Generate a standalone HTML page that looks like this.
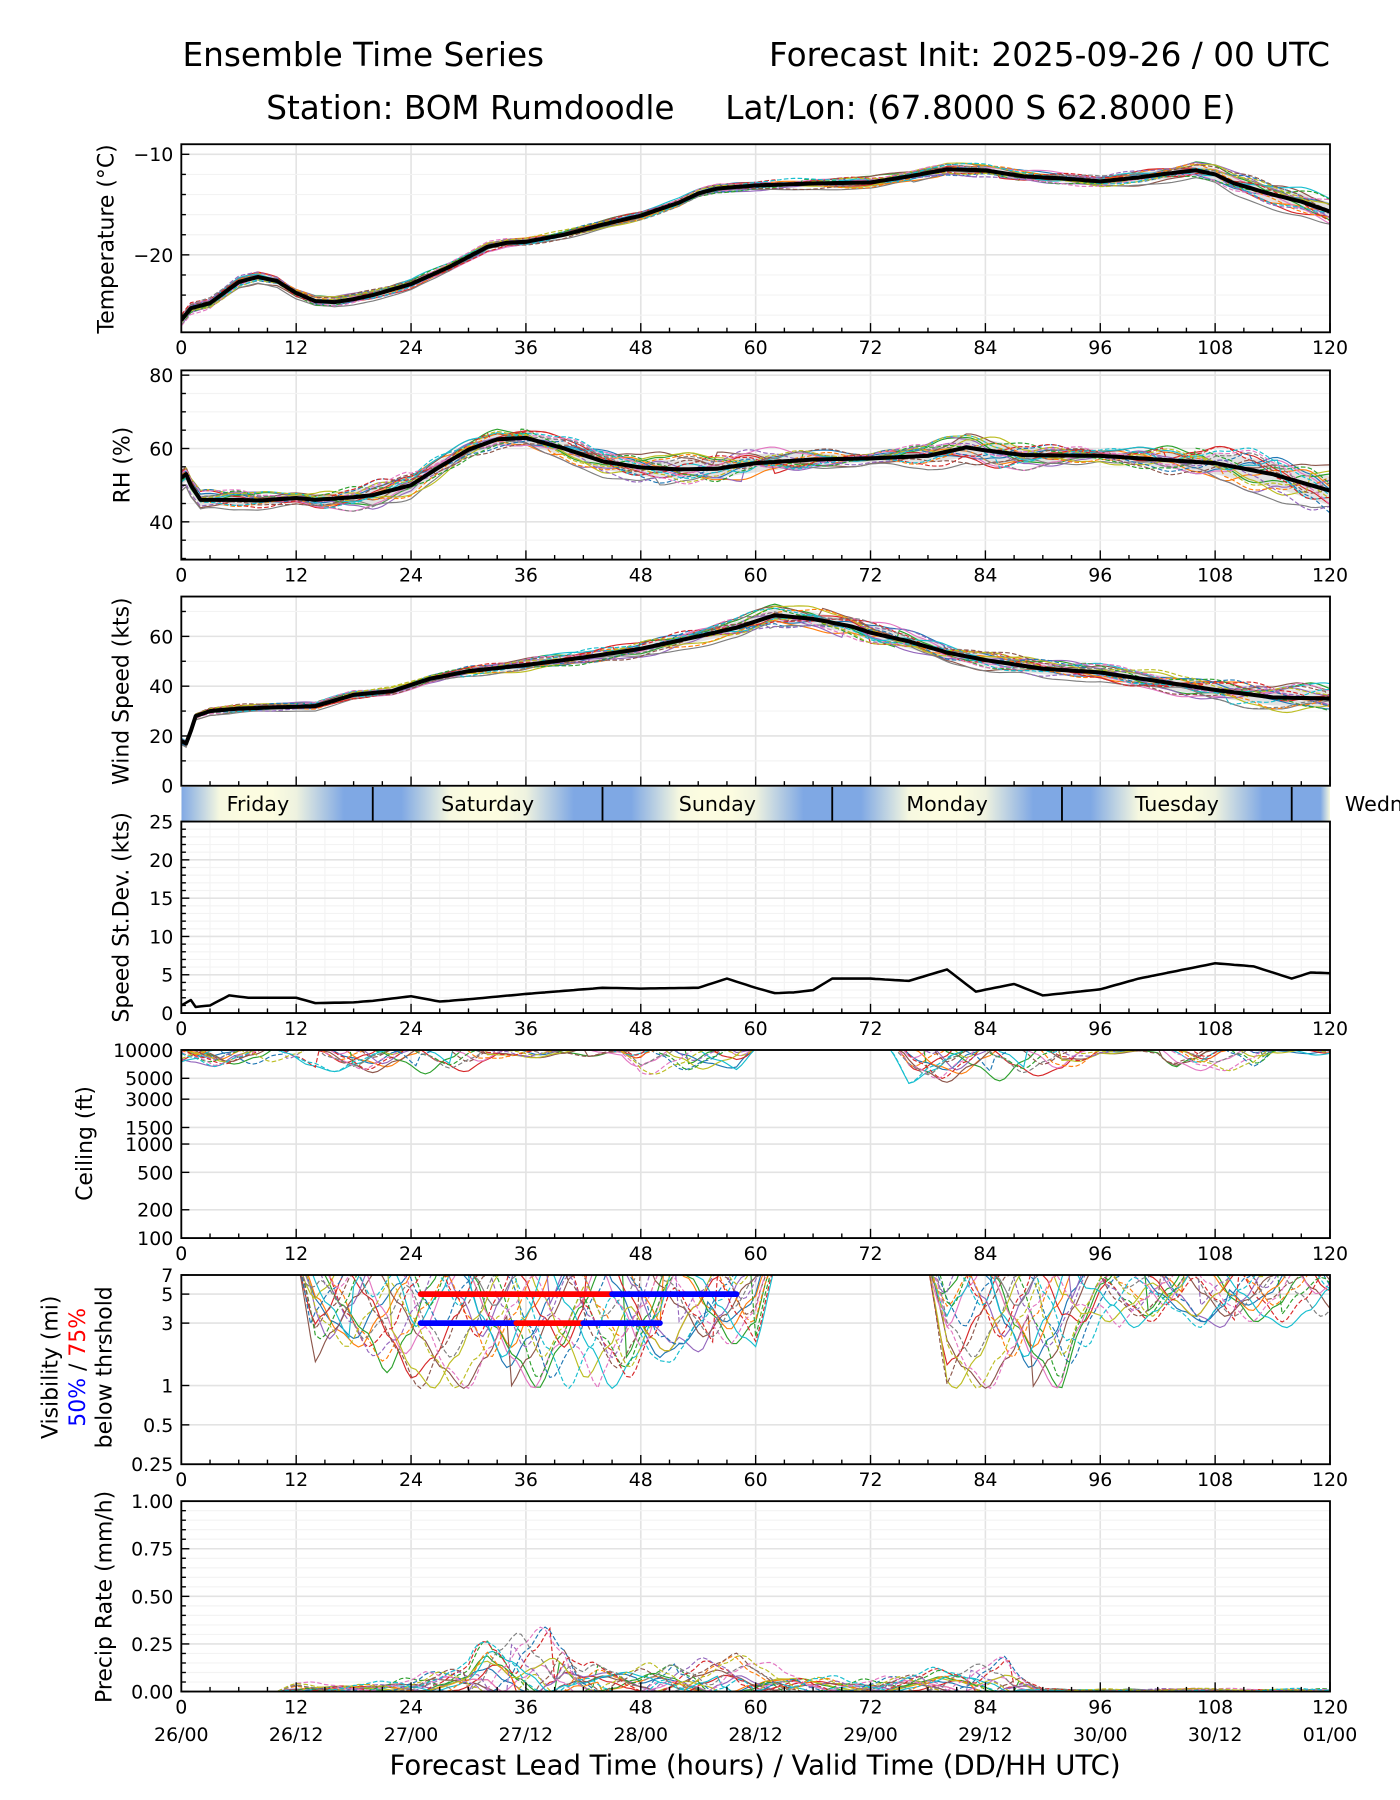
<!DOCTYPE html>
<html><head><meta charset="utf-8"><style>
html,body{margin:0;padding:0;background:#fff;}
svg{display:block;font-family:"DejaVu Sans","Liberation Sans",sans-serif;}
</style></head><body>
<svg id="chart" width="1400" height="1800" viewBox="0 0 1220 1560" preserveAspectRatio="none" xmlns="http://www.w3.org/2000/svg">
<rect x="0" y="0" width="1220" height="1560" fill="#fff"/>
<text x="159" y="57" font-size="28.5">Ensemble Time Series</text>
<text x="1159" y="57" font-size="28.5" text-anchor="end">Forecast Init: 2025-09-26 / 00 UTC</text>
<text x="232" y="103" font-size="28.5">Station: BOM Rumdoodle</text>
<text x="632" y="103" font-size="28.5">Lat/Lon: (67.8000 S 62.8000 E)</text>
<text x="658" y="1538" font-size="24" text-anchor="middle">Forecast Lead Time (hours) / Valid Time (DD/HH UTC)</text>
<g id="root"></g>
</svg>
<script>
// ---- data ----
const tempHours=[0,1,3,6,8,10,12,14,16,18,20,24,28,30,32,34,36,40,44,48,52,54,56,60,66,72,76,80,84,88,92,96,100,104,106,108,110,114,117,120];
const tempMean=[-26.5,-25.3,-24.8,-22.7,-22.2,-22.6,-23.8,-24.6,-24.7,-24.4,-24.0,-22.9,-21.2,-20.2,-19.2,-18.8,-18.7,-18.0,-17.0,-16.1,-14.8,-13.9,-13.4,-13.1,-12.9,-12.8,-12.2,-11.5,-11.6,-12.2,-12.4,-12.7,-12.3,-11.8,-11.6,-12.0,-12.9,-14.0,-14.7,-15.7];
const tempSpreadHours=[0,12,24,48,72,96,108,120];
const tempSpread=[0.8,0.7,0.6,0.5,0.7,0.8,1.2,1.8];

const rhHours=[0,0.5,1,2,6,8,12,14,18,20,24,27,30,33,36,40,44,48,52,56,60,66,72,78,82,84,88,96,102,108,114,120];
const rhMean=[52,53,50,46,46,45.8,46.5,46,46.7,47.3,50,55,59.7,62.5,62.9,60,56.5,54.8,54.3,54.5,56,57,57.3,58,60.3,59.5,58.2,58,57,56,53,48.5];
const rhSpreadHours=[0,12,20,30,40,50,60,72,84,96,108,120];
const rhSpread=[4,2,5,3,4,5,5,2,6,2,6,8];

const windHours=[0,0.5,1,1.5,3,6,10,14,18,22,26,30,36,42,48,54,58,62,66,70,72,76,80,84,90,96,102,108,114,120];
const windMean=[18,17,22,28,30,31,31.5,32,36.5,38,43,46,48.5,51.5,55,60,63.5,68.5,67,64,61.5,58,53.5,50.5,47,45.5,42,38.5,35.5,35];
const windSpreadHours=[0,24,48,60,72,84,96,108,120];
const windSpread=[2,2,4,5,6,5,4,6,7];

const sdHours=[0,1,1.5,3,5,7,12,14,18,20,24,27,30,36,44,48,54,57,60,62,64,66,68,72,76,80,83,87,90,93,96,100,104,108,112,116,118,120];
const sdVals=[1,1.7,0.8,1.0,2.3,2.0,2.0,1.3,1.4,1.6,2.2,1.5,1.8,2.5,3.3,3.2,3.3,4.5,3.3,2.6,2.7,3.0,4.5,4.5,4.2,5.7,2.8,3.8,2.3,2.7,3.1,4.5,5.5,6.5,6.1,4.5,5.3,5.2];

const ceilDepthHours=[0,10,12,30,34,36,46,48,58,60,74,76,92,96,102,104,112,114,120];
const ceilDepth=[0.25,0.25,0.3,0.35,0.15,0.15,0.12,0.35,0.3,0.05,0.05,0.45,0.4,0.1,0.1,0.3,0.3,0.1,0.12];

const visDepthHours=[0,12,14,20,24,50,52,60,62,78,80,92,96,120];
const visDepth=[0,0,0.9,0.9,1.1,1.1,0.8,0.8,0.1,0.1,1.1,1.1,0.6,0.6];

const precipAmpHours=[0,10,12,20,24,30,32,40,42,58,60,70,74,86,90,120];
const precipAmp=[0,0,0.03,0.03,0.05,0.1,0.22,0.22,0.1,0.12,0.1,0.04,0.05,0.12,0.01,0.01];

const vis50Segments=[[25,45,5,'red'],[45,58,5,'blue'],[25,35,3,'blue'],[35,42,3,'red'],[42,50,3,'blue']];

const memberPatterns=[
[0.2,0.5,0.3,-0.2,-0.5,-0.3,0.1,0.4,0.6,0.2,-0.1,-0.4,-0.6,-0.2,0.3,0.7,0.4,0.0,-0.3,-0.5,-0.1,0.3,0.6,0.8,0.5],
[-0.4,-0.1,0.3,0.6,0.2,-0.2,-0.6,-0.3,0.1,0.5,0.7,0.3,-0.1,-0.5,-0.7,-0.2,0.2,0.5,0.1,-0.3,-0.6,-0.8,-0.4,0.0,0.3],
[0.6,0.2,-0.3,-0.1,0.4,0.8,0.5,0.0,-0.4,-0.6,-0.2,0.2,0.5,0.9,0.4,-0.1,-0.5,-0.2,0.3,0.6,0.9,0.5,0.1,-0.3,-0.6],
[-0.7,-0.4,0.0,0.4,0.7,0.3,-0.1,-0.5,-0.8,-0.3,0.2,0.6,0.3,-0.2,0.1,0.5,0.8,0.6,0.2,-0.2,-0.5,-0.2,0.2,0.5,0.1],
[0.1,-0.3,-0.7,-0.5,-0.1,0.3,0.7,0.9,0.4,-0.1,-0.5,-0.8,-0.4,0.1,0.6,0.2,-0.3,-0.7,-0.9,-0.4,0.0,0.4,0.0,-0.5,-0.9],
[0.9,0.6,0.2,-0.2,-0.6,-0.9,-0.5,-0.1,0.3,0.7,0.4,0.0,-0.3,0.2,0.6,0.9,0.5,0.1,-0.2,0.1,0.4,0.7,0.9,0.6,0.2],
[-0.2,0.2,0.6,0.9,0.5,0.1,-0.3,0.1,0.5,0.0,-0.4,-0.7,-0.9,-0.5,-0.1,0.3,0.0,-0.4,-0.6,-0.3,0.2,0.6,0.3,-0.1,-0.4],
[-0.9,-0.6,-0.2,0.1,-0.2,-0.5,-0.8,-0.9,-0.6,-0.9,-1.0,-0.8,-0.5,-0.2,-0.6,-0.9,-0.7,-0.3,0.0,-0.3,-0.7,-0.9,-1.0,-0.8,-0.5],
[0.4,0.7,0.9,0.6,0.2,-0.2,-0.4,0.0,0.4,0.8,0.5,0.1,0.4,0.7,0.3,-0.2,-0.6,-0.9,-0.5,-0.1,0.3,0.0,-0.4,-0.7,-0.3],
[0.0,-0.5,-0.2,0.3,0.0,-0.4,0.2,0.6,0.2,-0.3,0.1,0.5,0.9,0.6,0.2,-0.3,-0.1,0.3,0.7,0.9,0.6,0.2,-0.2,0.2,0.6],
[0.3,0.0,-0.4,-0.8,-0.4,0.0,0.3,-0.1,-0.5,-0.2,0.3,0.8,0.5,0.0,-0.4,-0.1,0.4,0.8,0.4,0.0,-0.4,-0.7,-0.3,0.2,0.7],
[-0.5,-0.8,-0.5,0.0,0.5,0.8,0.4,0.1,-0.2,0.2,0.6,0.2,-0.2,-0.6,-0.3,0.1,0.4,0.1,-0.3,-0.7,-0.4,0.1,0.5,0.2,-0.2],
[0.7,0.3,0.0,0.3,0.6,0.2,-0.3,-0.7,-0.3,0.1,-0.3,-0.6,-0.2,0.3,0.8,0.4,0.0,0.4,0.7,0.3,-0.1,-0.5,-0.8,-0.5,-0.1],
[-0.1,0.4,0.8,0.4,-0.1,-0.5,-0.2,0.3,0.7,0.4,-0.1,-0.4,0.0,0.4,0.0,-0.5,-0.8,-0.4,0.1,0.5,0.8,0.4,0.0,0.4,0.8],
[0.5,0.1,-0.2,0.2,-0.2,-0.6,-0.9,-0.5,0.0,0.4,0.8,0.5,0.1,-0.3,-0.7,-0.4,0.1,0.5,0.2,-0.2,0.2,0.6,0.2,-0.3,-0.6],
[-0.3,-0.6,-0.9,-0.5,-0.1,0.4,0.1,-0.3,0.1,0.5,0.2,-0.2,0.3,0.6,0.9,0.5,0.1,-0.2,-0.5,-0.8,-0.5,-0.1,0.4,0.7,0.4],
[0.8,0.4,0.1,-0.3,0.1,0.5,0.8,0.4,-0.1,-0.5,-0.8,-0.4,0.0,-0.3,-0.6,-0.2,0.3,0.7,0.9,0.5,0.1,-0.2,0.2,0.5,0.9],
[-0.6,-0.2,0.2,0.0,-0.4,-0.1,0.4,0.7,0.3,-0.1,0.3,0.7,0.4,-0.1,0.2,0.6,0.3,-0.1,0.3,0.6,0.3,-0.2,-0.6,-0.9,-0.6],
[0.2,0.6,0.3,-0.1,0.3,0.7,0.3,-0.2,-0.6,-0.3,0.0,-0.3,-0.7,-0.4,0.0,0.4,0.7,0.3,-0.1,0.2,0.6,0.9,0.6,0.2,-0.2],
[-0.8,-0.4,0.0,0.5,0.9,0.5,0.0,0.3,0.6,0.9,0.5,0.2,-0.2,-0.5,-0.2,0.2,-0.2,-0.6,-0.3,0.1,-0.2,-0.5,-0.2,0.1,-0.3]];
const memberColors=['#1f77b4','#ff7f0e','#2ca02c','#d62728','#9467bd','#8c564b','#e377c2','#7f7f7f','#bcbd22','#17becf'];
const xTickLabels=['0','12','24','36','48','60','72','84','96','108','120'];
const dateLabels=['26/00','26/12','27/00','27/12','28/00','28/12','29/00','29/12','30/00','30/12','01/00'];
const dayNames=['Friday','Saturday','Sunday','Monday','Tuesday','Wedn'];

// ---- helpers ----
const NS='http://www.w3.org/2000/svg';
const root=document.getElementById('root');
const X0=158,X1=1159;
const TICK_FS=16.5, YLAB_FS=19;
function xs(h){return X0+h*(X1-X0)/120;}
function mk(tag,attrs,parent){const e=document.createElementNS(NS,tag);for(const k in attrs)e.setAttribute(k,attrs[k]);(parent||root).appendChild(e);return e;}
function interp(hs,vs,h){if(h<=hs[0])return vs[0];for(let i=1;i<hs.length;i++){if(h<=hs[i]){const t=(h-hs[i-1])/(hs[i]-hs[i-1]);return vs[i-1]+t*(vs[i]-vs[i-1]);}}return vs[vs.length-1];}
function pat(m,h){const p=memberPatterns[m];const hh=((h%120)+120)%120;const i=Math.floor(hh/5);const t=(hh-i*5)/5;const s=t*t*(3-2*t);return p[i]+s*(p[Math.min(i+1,24)]-p[i]);}
const SAMPLES=[];for(let h=0;h<=120.001;h+=0.5)SAMPLES.push(h);

function panel(name,top,bot){
  const g=mk('g',{});
  
  
  const cp=mk('clipPath',{id:'clip-'+name},g);
  mk('rect',{x:X0,y:top,width:X1-X0,height:bot-top},cp);
  return g;
}
function vgrid(g,top,bot,minor){
  for(let h=0;h<=120;h+=3){
    if(h%12!==0&&!minor)continue;
    const l=mk('line',{x1:xs(h),x2:xs(h),y1:top,y2:bot,stroke:h%12===0?'#e3e3e3':'#f3f3f3','stroke-width':h%12===0?1.4:1},g);
    
    
  }
}
function hgrid(g,y,major){
  const l=mk('line',{x1:X0,x2:X1,y1:y,y2:y,stroke:major?'#e3e3e3':'#f3f3f3','stroke-width':major?1.4:1},g);
  
  
}
function ytick(g,y,label,major){
  mk('line',{x1:X0,x2:X0+(major?7:4),y1:y,y2:y,stroke:'#000','stroke-width':1.2},g);
  if(label!==null){
    const t=mk('text',{x:X0-7,y:y+6,'font-size':TICK_FS,'text-anchor':'end'},g);
    
    
    t.textContent=label;
  }
}
function xaxis(g,top,bot,labels){
  for(let h=0;h<=120;h+=3){mk('line',{x1:xs(h),x2:xs(h),y1:bot,y2:bot-(h%12===0?8:4),stroke:'#000','stroke-width':1.2},g);}
  if(labels){
    xTickLabels.forEach((s,i)=>{
      const t=mk('text',{x:xs(i*12),y:bot+19,'font-size':TICK_FS,'text-anchor':'middle'},g);
      
      
      t.textContent=s;
    });
  }
}
function frame(g,top,bot){mk('rect',{x:X0,y:top,width:X1-X0,height:bot-top,fill:'none',stroke:'#000','stroke-width':1.6},g);}
function ylabel(g,x,cy,text,size){
  const t=mk('text',{x:x,y:cy,'font-size':size||YLAB_FS,'text-anchor':'middle',transform:'rotate(-90 '+x+' '+cy+')'},g);
  
  
  t.textContent=text;
  return t;
}
function pathFrom(fn,ys){let d='';SAMPLES.forEach((h,i)=>{d+=(i?'L':'M')+xs(h).toFixed(1)+' '+ys(fn(h)).toFixed(1);});return d;}
function members(g,name,fn,ys){
  const cg=mk('g',{'clip-path':'url(#clip-'+name+')'},g);
  for(let m=0;m<20;m++){
    const p=mk('path',{d:pathFrom(h=>fn(m,h),ys),fill:'none',stroke:memberColors[m%10],'stroke-width':1,'stroke-dasharray':m>=10?'4 2':'none'},cg);
    
    
  }
  return cg;
}
function meanBand(g,name,hs,vs,shs,ss,ys){
  const cg=mk('g',{'clip-path':'url(#clip-'+name+')'},g);
  let d='';
  SAMPLES.forEach((h,i)=>{d+=(i?'L':'M')+xs(h).toFixed(1)+' '+ys(interp(hs,vs,h)+0.5*interp(shs,ss,h)).toFixed(1);});
  SAMPLES.slice().reverse().forEach(h=>{d+='L'+xs(h).toFixed(1)+' '+ys(interp(hs,vs,h)-0.5*interp(shs,ss,h)).toFixed(1);});
  const b=mk('path',{d:d+'Z',fill:'#cccccc','fill-opacity':0.55},cg);
  
  
  return cg;
}
function meanLine(g,name,hs,vs,ys,w){
  const cg=mk('g',{'clip-path':'url(#clip-'+name+')'},g);
  const p=mk('path',{d:pathFrom(h=>interp(hs,vs,h),ys),fill:'none',stroke:'#000','stroke-width':w||3.5,'stroke-linejoin':'round'},cg);
  
  
}

// ---- Temperature ----
(function(){
  const top=125,bot=288,vmax=-9.0,vmin=-27.7;
  const ys=v=>top+(vmax-v)/(vmax-vmin)*(bot-top);
  const g=panel('temperature',top,bot);
  vgrid(g,top,bot,false);
  for(let v=-26;v<=-10;v+=2)hgrid(g,ys(v),v%10===0);
  meanBand(g,'temperature',tempHours,tempMean,tempSpreadHours,tempSpread,ys);
  members(g,'temperature',(m,h)=>interp(tempHours,tempMean,h)+interp(tempSpreadHours,tempSpread,h)*pat(m,h*1.3+m*3),ys);
  meanLine(g,'temperature',tempHours,tempMean,ys);
  for(let v=-26;v<=-10;v+=2)ytick(g,ys(v),v%10===0?'\u2212'+Math.abs(v):null,v%10===0);
  xaxis(g,top,bot,true);frame(g,top,bot);
  ylabel(g,99,207,'Temperature (°C)');
})();

// ---- RH ----
(function(){
  const top=321,bot=485,vmax=81.3,vmin=29.7;
  const ys=v=>top+(vmax-v)/(vmax-vmin)*(bot-top);
  const g=panel('rh',top,bot);
  vgrid(g,top,bot,false);
  for(let v=30;v<=80;v+=5)hgrid(g,ys(v),v%20===0);
  meanBand(g,'rh',rhHours,rhMean,rhSpreadHours,rhSpread,ys);
  members(g,'rh',(m,h)=>interp(rhHours,rhMean,h)+interp(rhSpreadHours,rhSpread,h)*pat(m,h*1.7+m*5),ys);
  meanLine(g,'rh',rhHours,rhMean,ys);
  for(let v=30;v<=80;v+=5)ytick(g,ys(v),v%20===0?String(v):null,v%20===0);
  xaxis(g,top,bot,true);frame(g,top,bot);
  ylabel(g,113,403,'RH (%)');
})();

// ---- Wind ----
(function(){
  const top=517,bot=681,vmax=76,vmin=0;
  const ys=v=>top+(vmax-v)/(vmax-vmin)*(bot-top);
  const g=panel('wind',top,bot);
  vgrid(g,top,bot,false);
  for(let v=0;v<=70;v+=10)hgrid(g,ys(v),v%20===0);
  meanBand(g,'wind',windHours,windMean,windSpreadHours,windSpread,ys);
  members(g,'wind',(m,h)=>interp(windHours,windMean,h)+interp(windSpreadHours,windSpread,h)*pat(m,h*1.5+m*4),ys);
  meanLine(g,'wind',windHours,windMean,ys);
  for(let v=0;v<=70;v+=10)ytick(g,ys(v),v%20===0?String(v):null,v%20===0);
  xaxis(g,top,bot,false);frame(g,top,bot);
  ylabel(g,112,599,'Wind Speed (kts)');
})();

// ---- Day bar ----
(function(){
  const top=682,bot=712;
  const g=mk('g',{});
  
  
  const defs=mk('defs',{},g);
  const lg=mk('linearGradient',{id:'daygrad',gradientUnits:'userSpaceOnUse',x1:X0,x2:X1,y1:0,y2:0},defs);
  const stops=[];
  for(let k=-1;k<=5;k++){
    const mid=20+24*k,noon=8+24*k;
    [[mid-3,'#7fa8e4'],[mid+3,'#7fa8e4'],[noon-4,'#f6f8e0'],[noon-1.5,'#fcfce0'],[noon+1.5,'#fcfce0'],[noon+4,'#eef2e0']].forEach(s=>stops.push(s));
  }
  stops.sort((a,b)=>a[0]-b[0]).forEach(s=>{const o=s[0]/120;if(o>=-0.2&&o<=1.2)mk('stop',{offset:Math.min(1,Math.max(0,o)),'stop-color':s[1]},lg);});
  mk('rect',{x:X0,y:top,width:X1-X0,height:bot-top,fill:'url(#daygrad)'},g);
  [20,44,68,92,116].forEach(h=>mk('line',{x1:xs(h),x2:xs(h),y1:top,y2:bot,stroke:'#000','stroke-width':1.6},g));
  const centers=[8,32,56,80,104];
  dayNames.forEach((n,i)=>{
    const x=i<5?xs(centers[i]):1172;
    const t=mk('text',{x:x,y:703,'font-size':18,'text-anchor':i<5?'middle':'start'},g);
    
    
    t.textContent=n;
  });
})();

// ---- Speed stdev ----
(function(){
  const top=712,bot=878,vmax=25,vmin=0;
  const ys=v=>top+(vmax-v)/(vmax-vmin)*(bot-top);
  const g=panel('stdev',top,bot);
  vgrid(g,top,bot,true);
  for(let v=0;v<=25;v+=1)hgrid(g,ys(v),v%5===0);
  meanLine(g,'stdev',sdHours,sdVals,ys,2.2);
  for(let v=0;v<=25;v+=1)ytick(g,ys(v),v%5===0?String(v):null,v%5===0);
  xaxis(g,top,bot,true);frame(g,top,bot);
  ylabel(g,112,795,'Speed St.Dev. (kts)');
})();

// ---- Ceiling ----
(function(){
  const top=910,bot=1073;
  const ys=v=>top+(4-Math.log10(v))/2*(bot-top);
  const g=panel('ceiling',top,bot);
  vgrid(g,top,bot,false);
  const ticks=[10000,5000,3000,1500,1000,500,200,100];
  ticks.forEach(v=>hgrid(g,ys(v),true));
  members(g,'ceiling',(m,h)=>{const d=interp(ceilDepthHours,ceilDepth,h);const p=pat(m,h*2+m*7);return Math.pow(10,4.05-d*Math.max(0,p));},ys);
  ticks.forEach(v=>ytick(g,ys(v),String(v),true));
  xaxis(g,top,bot,true);frame(g,top,bot);
  ylabel(g,80,991,'Ceiling (ft)');
})();

// ---- Visibility ----
(function(){
  const top=1105,bot=1269,lmax=Math.log10(7),lmin=Math.log10(0.25);
  const ys=v=>top+(lmax-Math.log10(v))/(lmax-lmin)*(bot-top);
  const g=panel('visibility',top,bot);
  vgrid(g,top,bot,false);
  const ticks=[7,5,3,1,0.5,0.25];
  ticks.forEach(v=>hgrid(g,ys(v),true));
  members(g,'visibility',(m,h)=>{const d=interp(visDepthHours,visDepth,h);const p=pat(m,h*2.2+m*9);return Math.pow(10,1-d*Math.max(0,p+0.4)/1.4);},ys);
  const sg=mk('g',{'clip-path':'url(#clip-visibility)'},g);
  vis50Segments.forEach(s=>{
    const l=mk('line',{x1:xs(s[0]),x2:xs(s[1]),y1:ys(s[2]),y2:ys(s[2]),stroke:s[3],'stroke-width':5,'stroke-linecap':'round'},sg);
    
    
  });
  ticks.forEach(v=>ytick(g,ys(v),String(v),true));
  xaxis(g,top,bot,true);frame(g,top,bot);
  ylabel(g,50,1185,'Visibility (mi)');
  const t=mk('text',{x:74,y:1185,'font-size':YLAB_FS,'text-anchor':'middle',transform:'rotate(-90 74 1185)'},g);
  
  
  const a=mk('tspan',{fill:'blue'},t);a.textContent='50%';
  const b=mk('tspan',{fill:'#000'},t);b.textContent=' / ';
  const c=mk('tspan',{fill:'red'},t);c.textContent='75%';
  ylabel(g,97,1185,'below thrshold');
})();

// ---- Precip ----
(function(){
  const top=1301,bot=1466,vmax=1.0,vmin=0;
  const ys=v=>top+(vmax-v)/(vmax-vmin)*(bot-top);
  const g=panel('precip',top,bot);
  vgrid(g,top,bot,false);
  for(let v=0;v<=1.0001;v+=0.05)hgrid(g,ys(v),Math.abs(v*4-Math.round(v*4))<1e-6);
  members(g,'precip',(m,h)=>{const a=interp(precipAmpHours,precipAmp,h);const p=pat(m,h*2.5+m*11);return Math.max(0,a*(p+0.3)*(m>=10?1.4:0.8));},ys);
  for(let i=0;i<=20;i++){const v=i*0.05;ytick(g,ys(v),i%5===0?v.toFixed(2):null,i%5===0);}
  xaxis(g,top,bot,true);frame(g,top,bot);
  dateLabels.forEach((s,i)=>{
    const t=mk('text',{x:xs(i*12),y:1509,'font-size':TICK_FS,'text-anchor':'middle'},g);
    
    
    t.textContent=s;
  });
  ylabel(g,97,1384,'Precip Rate (mm/h)');
})();
</script>
</body></html>
